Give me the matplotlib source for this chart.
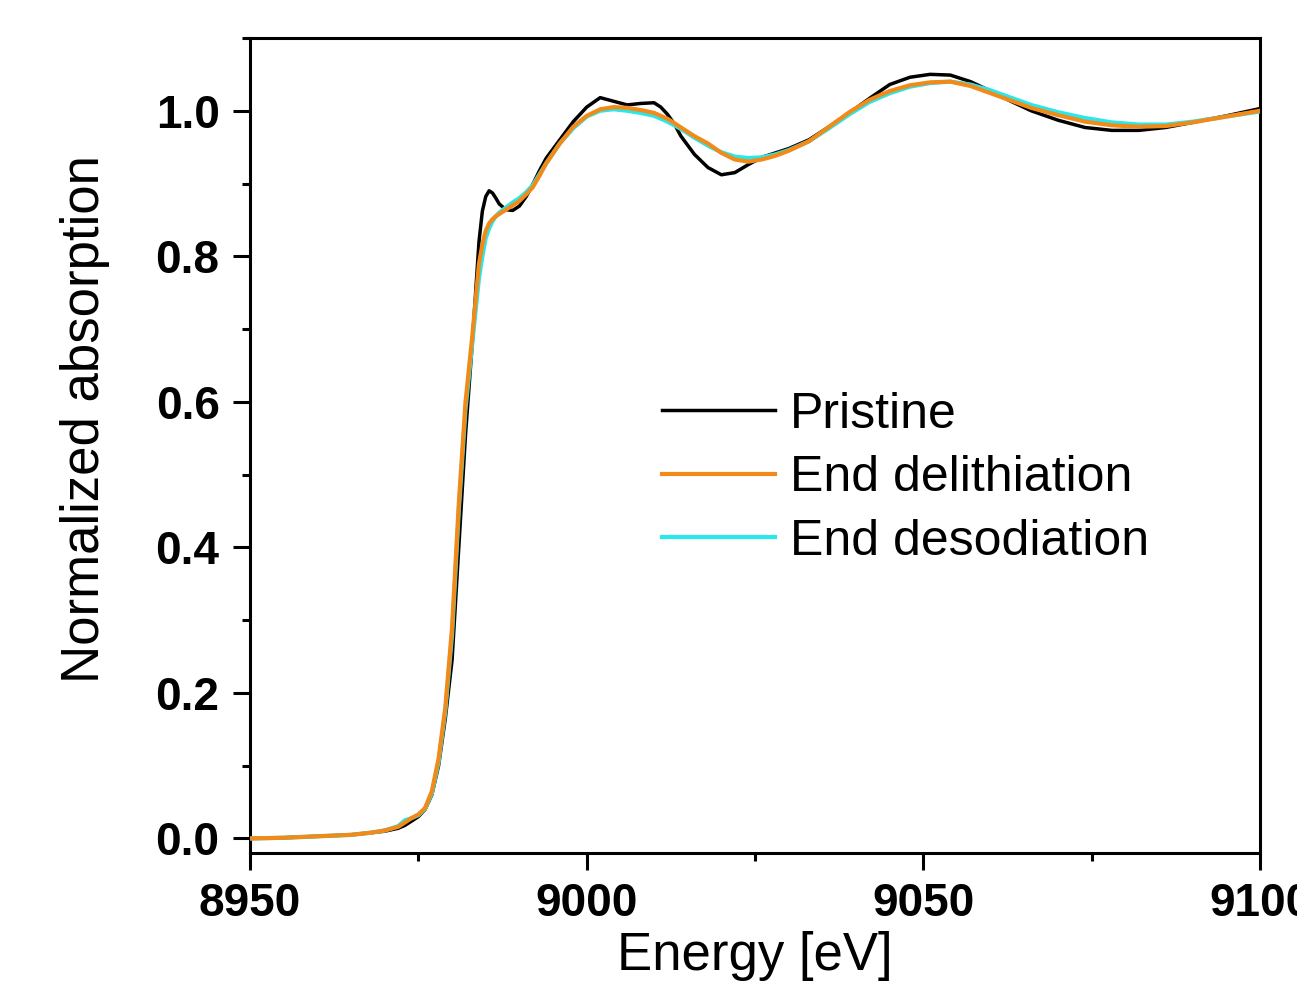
import numpy as np
import matplotlib
matplotlib.use("Agg")
import matplotlib.pyplot as plt
from matplotlib.ticker import MultipleLocator, FormatStrFormatter

plt.rcParams['font.family'] = ['Liberation Sans', 'DejaVu Sans']

# energy grid (eV)
energy = [8950, 8955, 8960, 8965, 8968, 8970, 8972, 8973, 8974, 8975,
          8976, 8977, 8978, 8979, 8980, 8981, 8982, 8983, 8984, 8984.5,
          8985, 8985.5, 8986, 8986.5, 8987, 8988, 8989, 8990, 8991, 8992,
          8993, 8994, 8996, 8998, 9000, 9002, 9004, 9006, 9008, 9010,
          9011, 9012, 9013, 9014, 9016, 9018, 9020, 9022, 9024, 9026,
          9028, 9030, 9033, 9036, 9039, 9042, 9045, 9048, 9051, 9054,
          9057, 9060, 9063, 9066, 9070, 9074, 9078, 9082, 9086, 9090,
          9095, 9100]

pristine = [0.000, 0.001, 0.003, 0.005, 0.008, 0.010, 0.014, 0.018, 0.024, 0.030,
            0.040, 0.060, 0.100, 0.165, 0.245, 0.400, 0.555, 0.680, 0.820, 0.862,
            0.882, 0.890, 0.887, 0.880, 0.872, 0.864, 0.863, 0.869, 0.882, 0.899,
            0.918, 0.935, 0.960, 0.985, 1.005, 1.018, 1.013, 1.008, 1.010, 1.011,
            1.005, 0.995, 0.982, 0.965, 0.940, 0.922, 0.912, 0.915, 0.926, 0.936,
            0.942, 0.948, 0.960, 0.978, 0.997, 1.017, 1.036, 1.046, 1.050, 1.049,
            1.040, 1.027, 1.013, 1.000, 0.987, 0.977, 0.973, 0.973, 0.977, 0.984,
            0.993, 1.003]

delithiation = [0.000, 0.001, 0.003, 0.005, 0.008, 0.011, 0.016, 0.022, 0.028, 0.033,
                0.042, 0.065, 0.110, 0.180, 0.290, 0.460, 0.600, 0.690, 0.790, 0.816,
                0.835, 0.845, 0.851, 0.855, 0.858, 0.864, 0.870, 0.876, 0.885, 0.895,
                0.911, 0.928, 0.955, 0.978, 0.993, 1.002, 1.005, 1.004, 1.001, 0.997,
                0.993, 0.989, 0.983, 0.977, 0.965, 0.955, 0.942, 0.933, 0.930, 0.933,
                0.938, 0.945, 0.958, 0.978, 0.998, 1.015, 1.027, 1.035, 1.039, 1.040,
                1.034, 1.024, 1.014, 1.004, 0.994, 0.985, 0.980, 0.978, 0.979, 0.984,
                0.992, 1.000]

desodiation = [0.000, 0.001, 0.003, 0.005, 0.008, 0.011, 0.017, 0.025, 0.028, 0.032,
               0.041, 0.062, 0.105, 0.175, 0.280, 0.450, 0.590, 0.680, 0.770, 0.800,
               0.825, 0.838, 0.848, 0.855, 0.860, 0.867, 0.874, 0.880, 0.888, 0.898,
               0.913, 0.928, 0.955, 0.976, 0.992, 1.000, 1.002, 1.000, 0.997, 0.993,
               0.989, 0.985, 0.980, 0.975, 0.963, 0.952, 0.943, 0.937, 0.935, 0.936,
               0.940, 0.946, 0.958, 0.976, 0.995, 1.012, 1.024, 1.033, 1.038, 1.040,
               1.036, 1.028, 1.018, 1.008, 0.998, 0.990, 0.984, 0.981, 0.981, 0.985,
               0.992, 0.999]

labels = ['Pristine', 'End delithiation', 'End desodiation']
colors = ['black', '#F28A1A', '#28E8EC']

fig = plt.figure(figsize=(12.97, 10.07), dpi=100)
ax = fig.add_axes([0.1928, 0.1529, 0.7787, 0.8094])

l1, = ax.plot(energy, pristine, color=colors[0], lw=2.5, label=labels[0], zorder=2)
l3, = ax.plot(energy, desodiation, color=colors[2], lw=3, label=labels[2], zorder=3)
l2, = ax.plot(energy, delithiation, color=colors[1], lw=3, label=labels[1], zorder=4)

ax.set_xlim(8950, 9100)
ax.set_ylim(-0.02, 1.1)
ax.xaxis.set_major_locator(MultipleLocator(50))
ax.xaxis.set_minor_locator(MultipleLocator(25))
ax.yaxis.set_major_locator(MultipleLocator(0.2))
ax.yaxis.set_minor_locator(MultipleLocator(0.1))
ax.yaxis.set_major_formatter(FormatStrFormatter('%.1f'))

for s in ax.spines.values():
    s.set_linewidth(2.2)
ax.tick_params(which='both', direction='out', width=2.2, top=False, right=False)
ax.tick_params(which='major', length=12, labelsize=33)
ax.tick_params(which='minor', length=6)
ax.tick_params(axis='x', which='major', pad=9)
ax.tick_params(axis='y', which='major', pad=10)
for t in ax.get_xticklabels() + ax.get_yticklabels():
    t.set_fontweight('bold')

ax.set_xlabel('Energy [eV]', fontsize=38)
ax.set_ylabel('Normalized absorption', fontsize=38)
ax.xaxis.set_label_coords(0.5, -0.096)
ax.yaxis.set_label_coords(-0.139, 0.532)

ax.legend(handles=[l1, l2, l3], labels=labels, loc='upper left',
          bbox_to_anchor=(0.408, 0.566), frameon=False, fontsize=36,
          handlelength=2.25, handletextpad=0.3, labelspacing=0.35,
          borderpad=0, borderaxespad=0)

fig.savefig('out.png', dpi=100)
